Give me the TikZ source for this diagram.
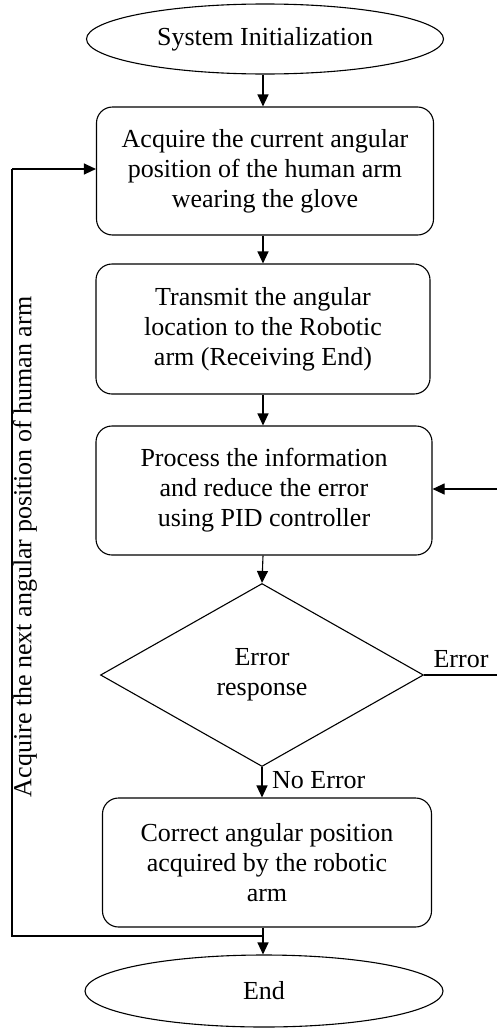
\documentclass[tikz,border=0pt]{standalone}
\usepackage{fontspec}
\setmainfont{Liberation Serif}
\usetikzlibrary{shapes.geometric,arrows.meta}
\begin{document}
\begin{tikzpicture}[x=1pt,y=-1pt,
  every node/.style={font=\fontsize{26}{30}\selectfont},
  procbox/.style={draw, line width=1.1pt, rounded corners=16pt, align=center, inner sep=0pt},
  term/.style={draw, line width=1.1pt, ellipse, inner sep=0pt},
  decide/.style={draw, line width=1.1pt, diamond, inner sep=0pt, align=center},
  flow/.style={line width=1.1pt, -{Triangle[length=12pt,width=11pt]}},
  plain/.style={line width=1.1pt}]
\useasboundingbox (0,0) rectangle (496,1028);
\node[term, minimum width=357pt, minimum height=70pt] (start) at (265,39) {System Initialization};
\node[procbox, minimum width=337pt, minimum height=128pt] (acq) at (265,171) {Acquire the current angular\\position of the human arm\\wearing the glove};
\node[procbox, minimum width=334pt, minimum height=130pt] (tx) at (263,329) {Transmit the angular\\location to the Robotic\\arm (Receiving End)};
\node[procbox, minimum width=336pt, minimum height=129pt] (proc) at (264,490.5) {Process the information\\and reduce the error\\using PID controller};
\node[decide, minimum width=323pt, minimum height=183pt] (dec) at (262,675) {Error\\response};
\node[procbox, minimum width=329pt, minimum height=129pt] (corr) at (267,862.5) {Correct angular position\\acquired by the robotic\\arm};
\node[term, minimum width=358pt, minimum height=72pt] (end) at (264,991) {End};

\coordinate (j) at (263,936);
\coordinate (lb) at (12,936);
\coordinate (lt) at (12,169);
\coordinate (rb) at (498,675);
\coordinate (rt) at (498,489);

\draw[flow] (start.south -| 263,0) -- (acq.north -| 263,0);
\draw[flow] (acq.south -| 263,0) -- (tx.north -| 263,0);
\draw[flow] (tx.south -| 263,0) -- (proc.north -| 263,0);
\draw[flow] (proc.south -| 263,0) -- (dec.north);
\draw[flow] (dec.south) -- (corr.north -| dec.south);
\draw[flow] (corr.south -| j) -- (end.north -| j);
\draw[plain] (j) -- (lb) -- (lt);
\draw[flow] (lt) -- (acq.west |- lt);
\draw[plain] (dec.east) -- (rb) -- (rt);
\draw[flow] (rt) -- (proc.east |- rt);

\node[anchor=center, inner sep=0pt] (errl) at (461,659) {Error};
\node[anchor=west, inner sep=0pt] (noerr) at (272,780) {No Error};
\node[rotate=90, inner sep=0pt] (loopl) at (25,547) {Acquire the next angular position of human arm};
\end{tikzpicture}
\end{document}
